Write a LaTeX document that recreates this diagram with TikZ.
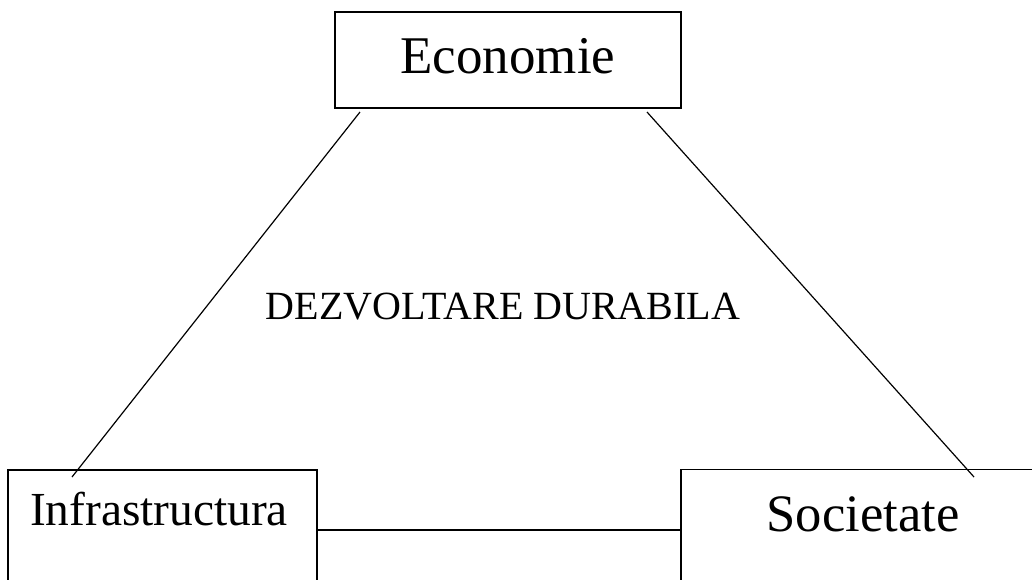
\documentclass[tikz,border=0pt]{standalone}
\usepackage{fontspec}
\setmainfont{Liberation Serif}
\begin{document}
\begin{tikzpicture}[x=1pt,y=-1pt,
  box/.style={draw,line width=1.6pt,inner sep=0pt},
  lab/.style={inner sep=0pt,anchor=base},
  link/.style={line width=1.2pt},
  bar/.style={line width=1.6pt}]
\useasboundingbox (0,0) rectangle (1032,579);
\clip (0,0) rectangle (1032,579);
\node[box, minimum width=346pt, minimum height=96pt] (eco) at (508,60) {};
\node[box, minimum width=309pt, minimum height=160pt] (inf) at (162.5,550) {};
\node[box, minimum width=400pt, minimum height=160pt] (soc) at (881,549.5) {};
\node[lab, font=\fontsize{53pt}{60pt}\selectfont] (ecoT) at (508,73) {Economie};
\node[lab, font=\fontsize{47.4pt}{54pt}\selectfont] (infT) at (159,525) {Infrastructura};
\node[lab, font=\fontsize{52.6pt}{60pt}\selectfont] (socT) at (863,531) {Societate};
\node[lab, font=\fontsize{40pt}{46pt}\selectfont] (dd) at (503,319) {DEZVOLTARE DURABILA};
\coordinate (a1) at (360,112);
\coordinate (a2) at (72,477);
\coordinate (b1) at (647,112);
\coordinate (b2) at (974,477);
\draw[link] (a1) -- (a2);
\draw[link] (b1) -- (b2);
\draw[bar] (inf.east |- 0,530) -- (soc.west |- 0,530);
\end{tikzpicture}
\end{document}
